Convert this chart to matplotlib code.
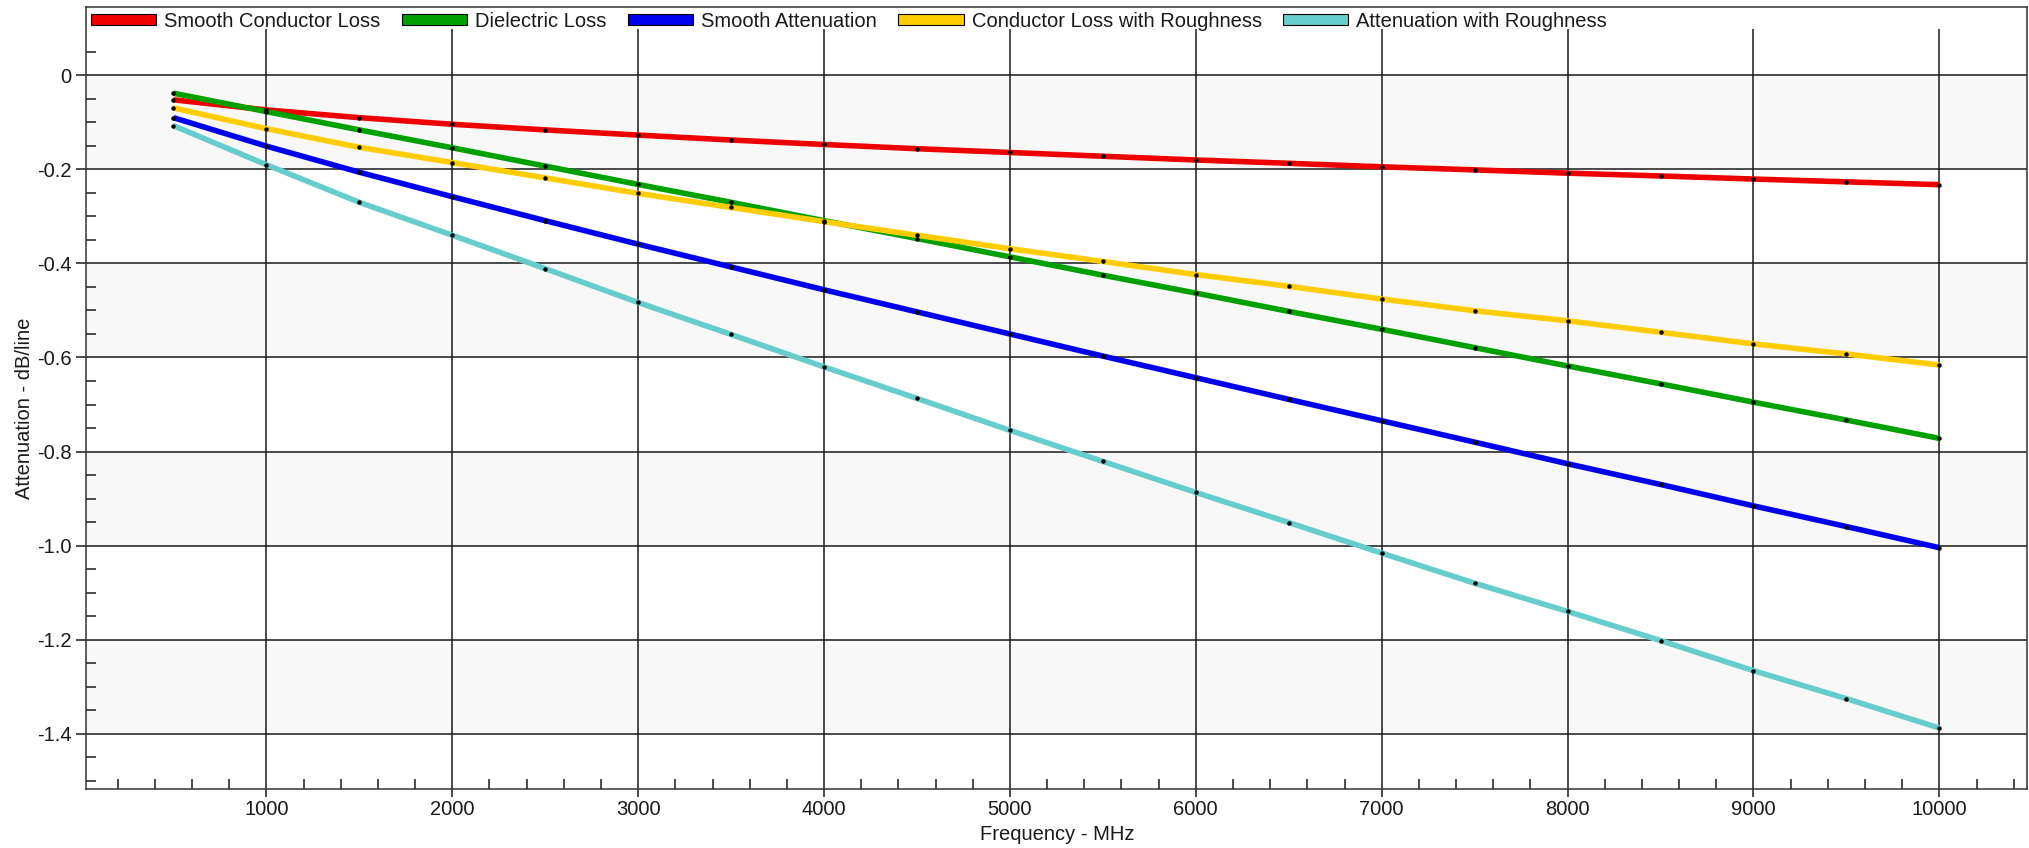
import matplotlib.pyplot as plt
from matplotlib.patches import Patch, Rectangle
from matplotlib.ticker import MultipleLocator

plt.rcParams['font.family'] = ['Liberation Sans', 'DejaVu Sans']

freq = [500, 1000, 1500, 2000, 2500, 3000, 3500, 4000, 4500, 5000,
        5500, 6000, 6500, 7000, 7500, 8000, 8500, 9000, 9500, 10000]

smooth_cond = [-0.052, -0.0735, -0.090, -0.104, -0.116, -0.127, -0.1375, -0.147, -0.156, -0.164,
               -0.172, -0.180, -0.187, -0.1945, -0.201, -0.208, -0.214, -0.2205, -0.2265, -0.2325]
dielectric = [-0.038, -0.077, -0.116, -0.154, -0.193, -0.232, -0.270, -0.309, -0.347, -0.386,
              -0.425, -0.463, -0.502, -0.540, -0.579, -0.618, -0.656, -0.695, -0.733, -0.772]
smooth_att = [-0.090, -0.1505, -0.206, -0.258, -0.309, -0.359, -0.4075, -0.456, -0.503, -0.550,
              -0.597, -0.643, -0.689, -0.7345, -0.780, -0.826, -0.870, -0.9155, -0.9595, -1.0045]
rough_cond = [-0.0693, -0.1134, -0.153, -0.1855, -0.218, -0.251, -0.281, -0.311, -0.340, -0.3687,
              -0.3958, -0.4236, -0.4486, -0.4757, -0.5006, -0.522, -0.5463, -0.571, -0.5925, -0.616]
rough_att = [-0.107, -0.190, -0.270, -0.340, -0.411, -0.483, -0.551, -0.620, -0.687, -0.755,
             -0.821, -0.887, -0.951, -1.016, -1.080, -1.140, -1.202, -1.266, -1.3255, -1.388]

names = ['Smooth Conductor Loss', 'Dielectric Loss', 'Smooth Attenuation',
         'Conductor Loss with Roughness', 'Attenuation with Roughness']
colors = ['#ee0000', '#00a000', '#0000ee', '#ffcc00', '#66cccc']
series = [smooth_cond, dielectric, smooth_att, rough_cond, rough_att]

W, H = 2029, 848
fig = plt.figure(figsize=(W / 100, H / 100), dpi=100)
ax = fig.add_axes([85.7 / W, 1 - 788.7 / H, 1941 / W, 782 / H])

ax.set_xlim(28, 10470)
ax.set_ylim(-1.517, 0.146)

# alternating shaded bands
for lo in [-0.2, -0.6, -1.0, -1.4]:
    ax.axhspan(lo, lo + 0.2, color='#f8f8f8', zorder=0, lw=0)

ax.grid(True, which='major', color='#1a1a1a', linewidth=1.1, zorder=1)
ax.set_axisbelow(True)

# white band under the legend (grid lines stop below it)
ax.add_patch(Rectangle((0, 1 - 22.3 / 782), 1, 22.3 / 782, transform=ax.transAxes,
                       facecolor='white', edgecolor='none', zorder=1.5))

for vals, c in zip(series, colors):
    ax.plot(freq, vals, color=c, linewidth=4, zorder=3, solid_capstyle='butt')
    ax.plot(freq, vals, linestyle='none', marker='o', markersize=2.2,
            color='black', zorder=4)

ax.xaxis.set_major_locator(MultipleLocator(1000))
ax.xaxis.set_minor_locator(MultipleLocator(200))
ax.yaxis.set_major_locator(MultipleLocator(0.2))
ax.yaxis.set_minor_locator(MultipleLocator(0.05))

xt = [1000, 2000, 3000, 4000, 5000, 6000, 7000, 8000, 9000, 10000]
ax.set_xticks(xt)
ax.set_xticklabels([str(v) for v in xt])
yt = [0, -0.2, -0.4, -0.6, -0.8, -1.0, -1.2, -1.4]
ax.set_yticks(yt)
ax.set_yticklabels(['0' if v == 0 else '%.1f' % v for v in yt])

ax.tick_params(which='major', direction='out', length=7, width=1.1, colors='#1a1a1a',
               labelsize=14.5, pad=3)
ax.tick_params(which='minor', direction='in', length=7, width=1.1, color='#1a1a1a')
ax.tick_params(axis='x', which='major', length=6, pad=2)

for s in ax.spines.values():
    s.set_color('#333333')
    s.set_linewidth(1.1)

handles = [Patch(facecolor=c, edgecolor='black', linewidth=0.8) for c in colors]
leg = ax.legend(handles, names, loc='center left', bbox_to_anchor=(0.0026, 0.9813),
                ncol=5, frameon=False, fontsize=14.5, handlelength=3.25, handleheight=0.45,
                handletextpad=0.4, columnspacing=1.05, borderpad=0, borderaxespad=0)
leg.set_zorder(5)
for t in leg.get_texts():
    t.set_color('#1a1a1a')

fig.text(1057 / W, 1 - 835 / H, 'Frequency - MHz', ha='center', va='center',
         fontsize=14.5, color='#1a1a1a')
fig.text(25 / W, 1 - 408 / H, 'Attenuation - dB/line', ha='center', va='center',
         rotation=90, fontsize=14.5, color='#1a1a1a')

fig.savefig('out.png', dpi=100)
